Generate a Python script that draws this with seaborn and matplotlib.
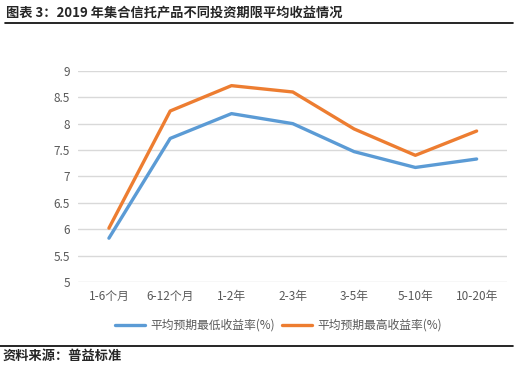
import matplotlib
matplotlib.use("Agg")
import matplotlib.pyplot as plt
import seaborn as sns
import pandas as pd

categories = ["1-6个月", "6-12个月", "1-2年", "2-3年", "3-5年", "5-10年", "10-20年"]
low_rate = [5.83, 7.72, 8.19, 8.00, 7.47, 7.17, 7.33]
high_rate = [6.02, 8.24, 8.72, 8.60, 7.90, 7.40, 7.86]
series_names = ["平均预期最低收益率(%)", "平均预期最高收益率(%)"]
yticks = [5, 5.5, 6, 6.5, 7, 7.5, 8, 8.5, 9]

df = pd.DataFrame({
    "期限": categories * 2,
    "收益率": low_rate + high_rate,
    "系列": [series_names[0]] * len(categories) + [series_names[1]] * len(categories),
})

sns.set_theme(style="white")
plt.rcParams["font.family"] = ["Noto Sans CJK SC", "DejaVu Sans"]

fig = plt.figure(figsize=(5.15, 3.73), dpi=100)
ax = fig.add_axes([0.152, 0.244, 0.833, 0.566])

sns.lineplot(data=df, x="期限", y="收益率", hue="系列", sort=False,
             palette=["#5b9bd5", "#ed7d31"], linewidth=2.4, ax=ax, legend=False)

ax.set_ylim(5, 9)
ax.set_xlim(-0.5, len(categories) - 0.5)
ax.set_yticks(yticks)
ax.set_yticklabels([f"{v:g}" for v in yticks])
ax.grid(axis="y", color="#d9d9d9", linewidth=1)
ax.set_axisbelow(True)
for s in ax.spines.values():
    s.set_visible(False)
ax.tick_params(axis="both", colors="#595959", labelsize=8.5, length=0)
ax.tick_params(axis="y", pad=6)
ax.tick_params(axis="x", pad=6)
ax.set_xlabel("")
ax.set_ylabel("")

handles = [plt.Line2D([], [], color="#5b9bd5", linewidth=2.4),
           plt.Line2D([], [], color="#ed7d31", linewidth=2.4)]
fig.legend(handles, series_names, loc="center", bbox_to_anchor=(0.54, 0.128),
           ncol=2, frameon=False, fontsize=8.5, labelcolor="#595959",
           handlelength=2.6, columnspacing=0.6, handletextpad=0.4)

fig.text(0.012, 0.965, "图表 3：2019 年集合信托产品不同投资期限平均收益情况",
         fontsize=9.5, fontweight="bold", va="center", ha="left")
fig.add_artist(plt.Line2D([0.01, 0.996], [0.938, 0.938], color="black", linewidth=1.2))
fig.add_artist(plt.Line2D([0.0, 0.996], [0.072, 0.072], color="black", linewidth=1.2))
fig.text(0.005, 0.045, "资料来源：普益标准", fontsize=9.5, fontweight="bold",
         va="center", ha="left")

fig.savefig("out.png", dpi=100)
